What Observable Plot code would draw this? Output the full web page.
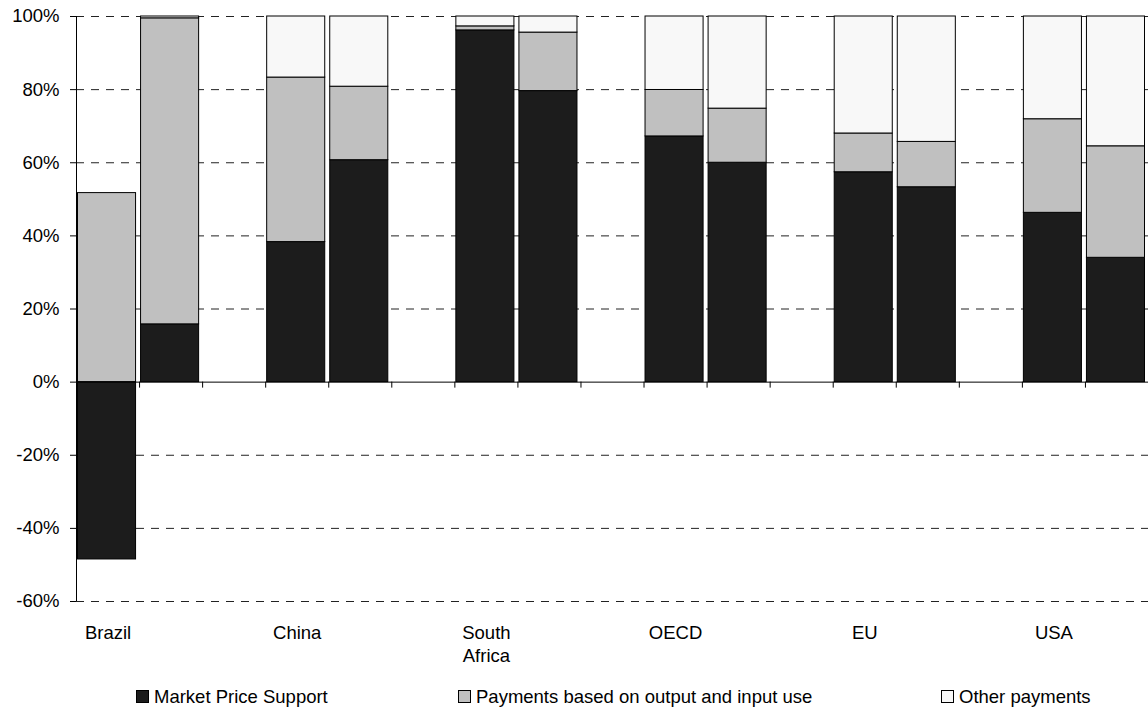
<!DOCTYPE html>
<html>
<head>
<meta charset="utf-8">
<script src="https://cdn.jsdelivr.net/npm/d3@7"></script>
<script src="https://cdn.jsdelivr.net/npm/@observablehq/plot@0.6"></script>
<style>
  html, body { margin: 0; padding: 0; background: #fff; }
  #wrap { position: relative; width: 1148px; height: 709px; font-family: "Liberation Sans", Arial, sans-serif; color: #000; }
  #legend { position: absolute; left: 0; top: 688px; width: 1148px; height: 20px; font-size: 18.5px; line-height: 18px; }
  .item { position: absolute; white-space: nowrap; }
  .sw { display: inline-block; width: 11px; height: 11px; border: 1px solid #000; margin-right: 5px; vertical-align: 0px; }
</style>
</head>
<body>
<div id="wrap">
  <div id="chart"></div>
  <div id="legend"></div>
</div>
<script>
// ---- data ----
const categories = ["Brazil", "China", "South\nAfrica", "OECD", "EU", "USA"];
const seriesNames = ["Market Price Support", "Payments based on output and input use", "Other payments"];
const seriesColors = ["#1c1c1c", "#c0c0c0", "#f8f8f8"];
// two bars per category (earlier period, later period), in %
const marketPriceSupport   = [-48.5, 15.8, 38.3, 60.7, 96.2, 79.6, 67.2, 60.0, 57.4, 53.3, 46.3, 34.0];
const paymentsOutputInput  = [ 51.7, 83.7, 45.0, 20.1,  1.1, 16.0, 12.7, 14.8, 10.6, 12.4, 25.6, 30.5];
const otherPayments        = [  0.0,  0.5, 16.7, 19.2,  2.7,  4.4, 20.1, 25.2, 32.0, 34.3, 28.1, 35.5];
const yTicks = [-60, -40, -20, 0, 20, 40, 60, 80, 100];

// ---- build table ----
const seriesValues = [marketPriceSupport, paymentsOutputInput, otherPayments];
const slotsPerCategory = 3; // two bars + a gap
const table = [];
marketPriceSupport.forEach((_, i) => {
  const slot = Math.floor(i / 2) * slotsPerCategory + (i % 2);
  seriesNames.forEach((s, k) => {
    const v = seriesValues[k][i];
    if (v !== 0) table.push({slot, series: s, value: v});
  });
});
const nSlots = categories.length * slotsPerCategory - 1;
const labelSlots = categories.map((_, c) => c * slotsPerCategory + 0.5);
const boundaries = d3.range(1, nSlots);

const chart = Plot.plot({
  width: 1148,
  height: 665,
  marginLeft: 76,
  marginRight: 0,
  marginTop: 16,
  marginBottom: 64,
  style: {fontFamily: "'Liberation Sans', Arial, sans-serif", fontSize: "18.5px", color: "#000", background: "#fff"},
  x: {type: "linear", domain: [0, nSlots]},
  y: {domain: [-60, 100]},
  color: {domain: seriesNames, range: seriesColors},
  marks: [
    Plot.ruleY(yTicks.filter(d => d !== 0), {stroke: "#222", strokeWidth: 1, strokeDasharray: "8,7"}),
    Plot.rectY(table, {
      x1: "slot", x2: d => d.slot + 1, y: "value", fill: "series",
      stroke: "#000", strokeWidth: 1, insetLeft: 1.5, insetRight: 3.5, order: null
    }),
    Plot.ruleY([0], {stroke: "#000", strokeWidth: 1}),
    Plot.ruleX(boundaries, {y1: 0, y2: 0, insetBottom: -6, stroke: "#000"}),
    Plot.ruleX([0], {stroke: "#000", strokeWidth: 1}),
    Plot.axisY({ticks: yTicks, tickFormat: d => d + "%", tickSize: 6, tickPadding: 11, fontSize: 18.5, stroke: "#000", label: null}),
    Plot.axisX({ticks: labelSlots, tickFormat: d => categories[Math.round((d - 0.5) / slotsPerCategory)],
                tickSize: 0, tickPadding: 21, lineHeight: 1.25, fontSize: 18.5, label: null})
  ]
});
document.getElementById("chart").appendChild(chart);

// ---- legend ----
const legendLeft = [136, 458, 941];
const legend = document.getElementById("legend");
seriesNames.forEach((s, k) => {
  const it = document.createElement("span");
  it.className = "item";
  it.style.left = legendLeft[k] + "px";
  const sw = document.createElement("span");
  sw.className = "sw";
  sw.style.background = seriesColors[k];
  it.appendChild(sw);
  it.appendChild(document.createTextNode(s));
  legend.appendChild(it);
});
</script>
</body>
</html>
